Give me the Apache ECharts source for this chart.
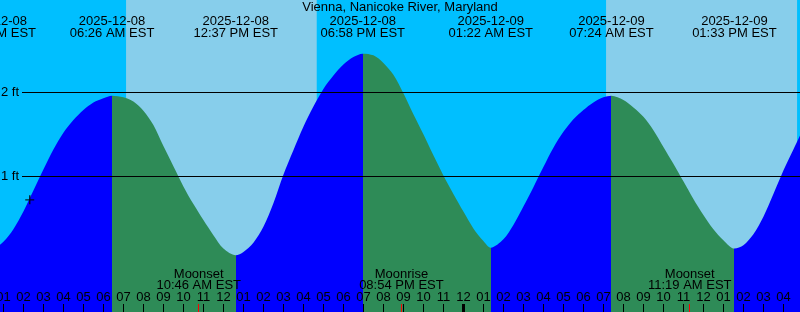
<!DOCTYPE html>
<html>
<head>
<meta charset="utf-8">
<script src="https://cdn.jsdelivr.net/npm/echarts@6/dist/echarts.min.js"></script>
<style>
html,body{margin:0;padding:0;background:#00BFFF;}
#c{width:800px;height:312px;}
</style>
</head>
<body>
<div id="c"></div>
<script>
// ---------------- data ----------------
const stationTitle = 'Vienna, Nanicoke River, Maryland';
const baseDate = '2025-12-08';                 // hour 0 = 2025-12-08 00:00 EST

// tide extremes
const tideDates   = ['2025-12-08', '2025-12-08', '2025-12-08', '2025-12-08', '2025-12-09', '2025-12-09', '2025-12-09'];
const tideTimes   = ['12:31 AM', '06:26 AM', '12:37 PM', '06:58 PM', '01:22 AM', '07:24 AM', '01:33 PM'];
const tideHeights = [0.15, 1.96, 0.06, 2.46, 0.15, 1.96, 0.14];

// half-hourly water level (ft), hours after 2025-12-08 00:00 EST
const sampleHours = [0, 0.5, 1, 1.5, 2, 2.5, 3, 3.5, 4, 4.5, 5, 5.5, 6, 6.5, 7, 7.5, 8, 8.5, 9, 9.5,
                     10, 10.5, 11, 11.5, 12, 12.5, 13, 13.5, 14, 14.5, 15, 15.5, 16, 16.5, 17, 17.5, 18, 18.5, 19, 19.5,
                     20, 20.5, 21, 21.5, 22, 22.5, 23, 23.5, 24, 24.5, 25, 25.5, 26, 26.5, 27, 27.5, 28, 28.5, 29, 29.5,
                     30, 30.5, 31, 31.5, 32, 32.5, 33, 33.5, 34, 34.5, 35, 35.5, 36, 36.5, 37, 37.5, 38, 38.5, 39, 39.5,
                     40, 40.5, 41];
const sampleHeights = [0.20, 0.15, 0.22, 0.37, 0.58, 0.83, 1.08, 1.32, 1.52, 1.67, 1.79, 1.88, 1.93, 1.96, 1.94, 1.89, 1.78, 1.61, 1.36, 1.12,
                       0.88, 0.67, 0.48, 0.30, 0.14, 0.07, 0.10, 0.21, 0.40, 0.68, 1.02, 1.31, 1.59, 1.83, 2.04, 2.20, 2.33, 2.42, 2.46, 2.44,
                       2.35, 2.21, 1.99, 1.74, 1.50, 1.25, 1.01, 0.79, 0.58, 0.38, 0.23, 0.16, 0.25, 0.42, 0.64, 0.87, 1.11, 1.34, 1.53, 1.68,
                       1.79, 1.88, 1.94, 1.96, 1.91, 1.82, 1.71, 1.55, 1.35, 1.15, 0.94, 0.73, 0.54, 0.37, 0.24, 0.15, 0.18, 0.31, 0.52, 0.79,
                       1.07, 1.32, 1.57];

// daylight (sunrise, sunset)
const sunriseDates = ['2025-12-08', '2025-12-09'];
const sunriseTimes = ['07:08 AM', '07:08 AM'];
const sunsetDates  = ['2025-12-08', '2025-12-09'];
const sunsetTimes  = ['04:40 PM', '04:41 PM'];

// moon events
const moonEvents = ['Moonset', 'Moonrise', 'Moonset'];
const moonDates  = ['2025-12-08', '2025-12-08', '2025-12-09'];
const moonTimes  = ['10:46 AM', '08:54 PM', '11:19 AM'];

// current-time marker
const nowDate = '2025-12-08', nowTime = '02:19 AM', nowHeight = 0.72;

// axis values
const hourTicks   = [1, 2, 3, 4, 5, 6, 7, 8, 9, 10, 11, 12, 13, 14, 15, 16, 17, 18, 19, 20,
                     21, 22, 23, 24, 25, 26, 27, 28, 29, 30, 31, 32, 33, 34, 35, 36, 37, 38, 39, 40];
const midnightTicks = [24];
const levelTicks  = [1, 2];
const tzName = 'EST';

// ---------------- helpers ----------------
function dayOffset(d) {
  const p = d.split('-').map(Number), b = baseDate.split('-').map(Number);
  return (Date.UTC(p[0], p[1] - 1, p[2]) - Date.UTC(b[0], b[1] - 1, b[2])) / 3600000;
}
function toHours(d, t) {
  const m = t.match(/(\d+):(\d+) (AM|PM)/);
  return dayOffset(d) + (Number(m[1]) % 12) + (m[3] === 'PM' ? 12 : 0) + Number(m[2]) / 60;
}
const BLUE = '#0000FF', GREEN = '#2E8B57', DAY = '#87CEEB', NIGHT = '#00BFFF';
const FONT = 'Liberation Sans, Arial, sans-serif';

const tideT = tideDates.map((d, i) => toHours(d, tideTimes[i]));
const moonT = moonDates.map((d, i) => toHours(d, moonTimes[i]));
const riseT = sunriseDates.map((d, i) => toHours(d, sunriseTimes[i]));
const setT  = sunsetDates.map((d, i) => toHours(d, sunsetTimes[i]));

const points = [];
sampleHours.forEach((h, i) => {
  if (tideT.every(t => Math.abs(t - h) > 0.15)) points.push([h, sampleHeights[i]]);
});
tideT.forEach((t, i) => points.push([t, tideHeights[i]]));
points.sort((a, b) => a[0] - b[0]);

const n = tideT.length;
const pieces = [{ lt: tideT[0], color: tideHeights[1] > tideHeights[0] ? GREEN : BLUE }];
for (let i = 0; i < n - 1; i++) {
  pieces.push({ gte: tideT[i], lt: tideT[i + 1], color: tideHeights[i + 1] > tideHeights[i] ? BLUE : GREEN });
}
pieces.push({ gte: tideT[n - 1], color: tideHeights[n - 1] < tideHeights[n - 2] ? BLUE : GREEN });

function nearest(arr, v) {
  let k = 0;
  arr.forEach((t, i) => { if (Math.abs(t - v) < Math.abs(arr[k] - v)) k = i; });
  return k;
}
function hh(v) {
  const h = Math.round(v) % 12 || 12;
  return (h < 10 ? '0' : '') + h;
}

// view window (hours) : the plotting grid is 20px wider on both sides
const X0 = 0.83, SPAN = 40;
const xMin = X0 - 1, xMax = X0 + SPAN + 1;
const yMin = -0.615, yMax = 3.099;

const chart = echarts.init(document.getElementById('c'), null, { renderer: 'canvas' });
const baseX = {
  type: 'value', gridIndex: 0, min: xMin, max: xMax, z: 10,
  axisLine: { show: false, onZero: false }, splitLine: { show: false }
};
chart.setOption({
  animation: false,
  backgroundColor: NIGHT,
  textStyle: { fontFamily: FONT },
  title: {
    text: stationTitle, left: 'center', top: 1, padding: 0,
    textStyle: { fontSize: 13, fontWeight: 'normal', color: '#000', fontFamily: FONT }
  },
  grid: [
    { left: -20, right: -20, top: 0, bottom: 0, containLabel: false, outerBoundsMode: 'none' },
    { left: 22, right: 0, top: 0, bottom: 0, containLabel: false, outerBoundsMode: 'none' }
  ],
  visualMap: {
    type: 'piecewise', show: false, dimension: 0, seriesIndex: 0, pieces: pieces
  },
  xAxis: [
    Object.assign({}, baseX, {
      position: 'bottom',
      axisTick: { show: true, inside: true, length: 8, customValues: hourTicks, lineStyle: { color: '#000', width: 1 } },
      axisLabel: {
        show: true, inside: true, customValues: hourTicks, formatter: hh, margin: 14.5,
        verticalAlign: 'middle', fontSize: 13, color: '#000', fontFamily: FONT
      }
    }),
    Object.assign({}, baseX, {
      position: 'bottom',
      axisTick: { show: true, inside: true, length: 8, customValues: moonT, lineStyle: { color: '#FF0000', width: 1 } },
      axisLabel: {
        show: true, inside: true, customValues: moonT, margin: 32.5, verticalAlign: 'middle',
        lineHeight: 11, fontSize: 13, color: '#000', fontFamily: FONT,
        formatter: v => { const k = nearest(moonT, v); return moonEvents[k] + '\n' + moonTimes[k] + ' ' + tzName; }
      }
    }),
    Object.assign({}, baseX, {
      position: 'bottom',
      axisTick: { show: true, inside: true, length: 8, customValues: midnightTicks, lineStyle: { color: '#000', width: 3 } },
      axisLabel: { show: false }
    }),
    Object.assign({}, baseX, {
      position: 'top',
      axisTick: { show: false },
      axisLabel: {
        show: true, inside: true, customValues: tideT, margin: 27, verticalAlign: 'middle',
        lineHeight: 12, fontSize: 13, color: '#000', fontFamily: FONT,
        formatter: v => { const k = nearest(tideT, v); return tideDates[k] + '\n' + tideTimes[k] + ' ' + tzName; }
      }
    }),
    { type: 'value', gridIndex: 1, min: 0, max: 1, show: false }
  ],
  yAxis: [
    { type: 'value', gridIndex: 0, min: yMin, max: yMax, show: false },
    {
      type: 'value', gridIndex: 1, min: yMin, max: yMax, z: 10, position: 'left',
      axisLine: { show: false },
      axisTick: { show: false, customValues: levelTicks },
      axisLabel: {
        show: true, customValues: levelTicks, margin: 3, fontSize: 13, color: '#000', fontFamily: FONT,
        formatter: v => v + ' ft', showMinLabel: true, showMaxLabel: true
      },
      splitLine: { show: true, lineStyle: { color: '#000', width: 1 } }
    }
  ],
  series: [
    {
      type: 'line', xAxisIndex: 0, yAxisIndex: 0, z: 2,
      data: points, smooth: 0.3, showSymbol: false, symbol: 'none',
      lineStyle: { width: 0, opacity: 0 },
      areaStyle: { origin: 'start', opacity: 1 },
      silent: true
    },
    {
      type: 'line', xAxisIndex: 0, yAxisIndex: 0, z: 1, data: [], silent: true,
      markArea: {
        silent: true,
        itemStyle: { color: DAY, opacity: 1 },
        data: riseT.map((r, i) => [{ xAxis: r }, { xAxis: setT[i] }])
      }
    },
    {
      type: 'scatter', xAxisIndex: 0, yAxisIndex: 0, z: 20, silent: true,
      symbol: 'path://M0,3.8H9V5.2H0Z M3.8,0H5.2V9H3.8Z', symbolSize: 9,
      itemStyle: { color: '#000' },
      data: [[toHours(nowDate, nowTime), nowHeight]]
    }
  ]
});
</script>
</body>
</html>
